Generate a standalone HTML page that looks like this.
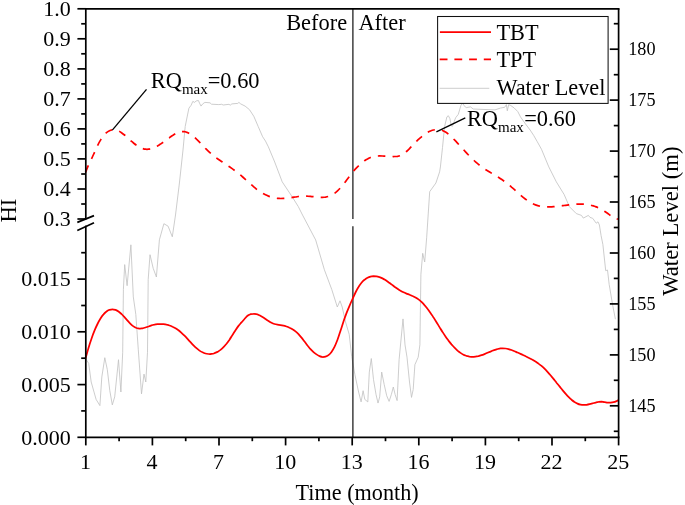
<!DOCTYPE html>
<html><head><meta charset="utf-8"><title>HI chart</title>
<style>
html,body{margin:0;padding:0;background:#fff;}
body{width:685px;height:505px;overflow:hidden;font-family:"Liberation Serif",serif;}
svg{display:block;will-change:transform;}
</style></head>
<body>
<svg width="685" height="505" viewBox="0 0 685 505">
<rect x="0" y="0" width="685" height="505" fill="#ffffff"/>
<path d="M85.5,358.5L88.7,363.4L91.2,382.0L96.1,399.4L99.9,405.6L101.8,377.1L104.8,357.7L107.3,369.6L109.8,390.7L112.3,404.9L114.7,396.9L118.5,359.7L120.9,392.0L122.7,352.3L123.4,289.4L124.7,264.6L127.1,285.7L130.9,244.8L133.3,296.9L135.8,314.3L138.3,349.8L141.5,393.9L144.0,374.1L145.8,382.0L147.5,352.3L148.2,279.5L150.0,254.7L153.2,268.3L156.4,277.0L159.4,239.8L163.9,223.7L168.1,226.2L172.3,236.8L175.5,215.0L179.3,184.0L183.0,150.0L185.2,126.5L188.9,108.2L191.1,105.3L192.8,101.4L194.7,102.4L196.2,100.9L198.4,100.5L199.5,103.1L201.0,106.1L202.7,103.9L204.9,102.4L210.0,102.8L211.5,104.2L218.8,104.6L221.7,104.3L223.2,105.0L229.0,104.3L230.2,105.2L231.9,103.9L237.8,103.4L238.9,102.4L240.7,103.9L245.1,106.1L249.5,109.7L253.8,116.3L258.2,126.5L262.6,136.7L265.5,141.1L268.4,146.9L274.7,162.0L282.2,181.8L292.1,196.7L298.3,206.6L302.0,214.0L315.7,240.0L324.4,269.8L331.8,289.6L337.3,307.0L340.0,300.8L342.2,307.0L345.5,321.9L349.2,334.3L351.7,356.6L354.9,374.6L358.6,392.0L361.1,401.9L363.1,390.7L364.8,399.4L367.8,401.9L369.3,372.1L371.3,358.5L373.5,379.6L376.0,394.4L378.0,403.1L379.7,396.9L381.7,372.1L384.2,384.5L386.7,395.7L389.1,401.4L391.4,394.4L393.3,387.0L395.1,394.4L397.1,400.6L399.1,359.7L403.0,318.9L405.0,344.8L407.0,357.2L409.5,382.0L411.5,397.4L413.2,389.5L414.9,364.7L418.2,357.2L419.9,344.8L420.9,274.4L422.7,253.3L424.7,262.0L426.7,237.2L429.7,191.7L435.9,183.0L439.6,171.9L440.4,167.0L442.5,147.5L444.6,126.5L446.9,116.9L448.3,115.7L449.9,118.6L451.3,125.6L452.3,126.5L455.6,117.8L458.3,114.3L460.9,105.5L462.7,102.9L463.9,105.5L466.2,107.6L470.5,106.9L473.2,109.0L480.0,109.3L495.0,109.9L500.3,108.1L504.7,107.3L506.4,104.6L507.3,110.8L508.7,104.6L510.8,105.5L514.3,108.1L517.8,111.6L520.5,116.9L524.8,123.0L530.1,130.0L533.6,135.3L537.1,141.4L541.5,149.3L548.8,166.9L556.3,181.8L564.2,194.6L569.4,206.7L576.3,213.6L581.5,215.4L583.3,218.1L588.4,215.4L590.0,217.4L592.7,218.3L596.2,223.2L598.0,221.8L599.4,225.0L601.1,235.7L602.9,244.6L605.7,270.7L607.5,270.0L609.2,284.6L612.7,305.3L615.4,319.2" fill="none" stroke="#c0c0c0" stroke-width="0.8" stroke-linejoin="round"/>
<line x1="352.9" y1="8.8" x2="352.9" y2="218.9" stroke="#111" stroke-width="1.2"/>
<line x1="352.9" y1="226.3" x2="352.9" y2="437.3" stroke="#111" stroke-width="1.2"/>
<path d="M85.5,172.4C86.0,171.2 87.5,167.4 88.5,165.1C89.5,162.9 90.5,161.1 91.5,158.9C92.5,156.8 93.5,154.5 94.5,152.3C95.5,150.1 96.5,147.7 97.5,145.7C98.5,143.6 99.5,141.7 100.5,140.1C101.5,138.4 102.5,137.0 103.5,135.8C104.5,134.5 105.5,133.5 106.5,132.7C107.5,131.9 108.5,131.3 109.5,130.8C110.5,130.3 111.5,130.1 112.5,129.9C113.5,129.8 114.5,129.8 115.5,130.0C116.5,130.2 117.5,130.5 118.5,131.0C119.5,131.4 120.5,132.0 121.5,132.7C122.5,133.4 123.5,134.2 124.5,135.0C125.5,135.8 126.5,136.8 127.5,137.7C128.5,138.6 129.5,139.5 130.5,140.4C131.5,141.3 132.5,142.1 133.5,143.0C134.5,143.8 135.5,144.6 136.5,145.2C137.5,145.9 138.5,146.6 139.5,147.1C140.5,147.7 141.5,148.1 142.5,148.5C143.5,148.8 144.5,149.1 145.5,149.2C146.5,149.3 147.5,149.3 148.5,149.2C149.5,149.1 150.5,148.9 151.5,148.6C152.5,148.3 153.5,147.9 154.5,147.5C155.5,147.0 156.5,146.5 157.5,145.9C158.5,145.4 159.5,144.7 160.5,144.1C161.5,143.4 162.5,142.7 163.5,142.0C164.5,141.3 165.5,140.6 166.5,139.9C167.5,139.1 168.5,138.4 169.5,137.7C170.5,136.9 171.5,136.2 172.5,135.6C173.5,134.9 174.5,134.3 175.5,133.7C176.5,133.2 177.5,132.7 178.5,132.4C179.5,132.0 180.5,131.7 181.5,131.6C182.5,131.5 183.5,131.5 184.5,131.7C185.5,131.9 186.5,132.2 187.5,132.6C188.5,133.1 189.5,133.6 190.5,134.3C191.5,134.9 192.5,135.7 193.5,136.5C194.5,137.3 195.5,138.2 196.5,139.2C197.5,140.1 198.5,141.1 199.5,142.1C200.5,143.1 201.5,144.2 202.5,145.2C203.5,146.3 204.5,147.3 205.5,148.4C206.5,149.4 207.5,150.4 208.5,151.3C209.5,152.3 210.5,153.2 211.5,154.0C212.5,154.9 213.5,155.7 214.5,156.5C215.5,157.3 216.5,158.0 217.5,158.7C218.5,159.4 219.5,160.1 220.5,160.8C221.5,161.5 222.5,162.1 223.5,162.8C224.5,163.5 225.5,164.1 226.5,164.8C227.5,165.5 228.5,166.2 229.5,166.8C230.5,167.5 231.5,168.2 232.5,168.9C233.5,169.6 234.5,170.4 235.5,171.1C236.5,171.9 237.5,172.6 238.5,173.4C239.5,174.2 240.5,175.1 241.5,175.9C242.5,176.8 243.5,177.7 244.5,178.6C245.5,179.5 246.5,180.4 247.5,181.3C248.5,182.2 249.5,183.1 250.5,184.0C251.5,184.9 252.5,185.8 253.5,186.6C254.5,187.5 255.5,188.3 256.5,189.1C257.5,189.8 258.5,190.6 259.5,191.3C260.5,192.0 261.5,192.6 262.5,193.2C263.5,193.8 264.5,194.3 265.5,194.8C266.5,195.3 267.5,195.7 268.5,196.1C269.5,196.5 270.5,196.8 271.5,197.1C272.5,197.4 273.5,197.6 274.5,197.8C275.5,198.0 276.5,198.2 277.5,198.3C278.5,198.4 279.5,198.4 280.5,198.5C281.5,198.5 282.5,198.5 283.5,198.4C284.5,198.4 285.5,198.3 286.5,198.2C287.5,198.1 288.5,198.0 289.5,197.8C290.5,197.7 291.5,197.6 292.5,197.4C293.5,197.3 294.5,197.1 295.5,197.0C296.5,196.8 297.5,196.7 298.5,196.5C299.5,196.4 300.5,196.3 301.5,196.2C302.5,196.1 303.5,196.1 304.5,196.1C305.5,196.0 306.5,196.0 307.5,196.1C308.5,196.1 309.5,196.2 310.5,196.3C311.5,196.5 312.5,196.6 313.5,196.7C314.5,196.8 315.5,197.0 316.5,197.1C317.5,197.2 318.5,197.3 319.5,197.4C320.5,197.4 321.5,197.4 322.5,197.4C323.5,197.3 324.5,197.2 325.5,197.1C326.5,196.9 327.5,196.7 328.5,196.4C329.5,196.1 330.5,195.7 331.5,195.2C332.5,194.7 333.5,194.1 334.5,193.4C335.5,192.7 336.5,191.8 337.5,190.9C338.5,190.0 339.5,188.9 340.5,187.8C341.5,186.6 342.5,185.4 343.5,184.2C344.5,182.9 345.5,181.6 346.5,180.2C347.5,178.9 348.5,177.6 349.5,176.3C350.5,175.0 351.5,173.7 352.5,172.4C353.5,171.2 354.5,170.0 355.5,168.9C356.5,167.8 357.5,166.7 358.5,165.8C359.5,164.8 360.5,163.9 361.5,163.0C362.5,162.2 363.5,161.4 364.5,160.7C365.5,160.0 366.5,159.4 367.5,158.9C368.5,158.3 369.5,157.9 370.5,157.5C371.5,157.1 372.5,156.8 373.5,156.6C374.5,156.4 375.5,156.2 376.5,156.1C377.5,156.0 378.5,156.0 379.5,155.9C380.5,155.9 381.5,155.9 382.5,156.0C383.5,156.0 384.5,156.1 385.5,156.1C386.5,156.2 387.5,156.3 388.5,156.3C389.5,156.4 390.5,156.5 391.5,156.5C392.5,156.5 393.5,156.6 394.5,156.5C395.5,156.5 396.5,156.4 397.5,156.3C398.5,156.1 399.5,155.9 400.5,155.5C401.5,155.1 402.5,154.6 403.5,153.9C404.5,153.2 405.5,152.4 406.5,151.5C407.5,150.6 408.5,149.6 409.5,148.6C410.5,147.5 411.5,146.4 412.5,145.4C413.5,144.4 414.5,143.3 415.5,142.3C416.5,141.3 417.5,140.4 418.5,139.4C419.5,138.5 420.5,137.6 421.5,136.8C422.5,136.0 423.5,135.2 424.5,134.5C425.5,133.7 426.5,133.1 427.5,132.5C428.5,131.9 429.5,131.4 430.5,131.0C431.5,130.6 432.5,130.2 433.5,130.0C434.5,129.8 435.5,129.6 436.5,129.5C437.5,129.5 438.5,129.5 439.5,129.7C440.5,129.9 441.5,130.1 442.5,130.5C443.5,130.9 444.5,131.4 445.5,132.0C446.5,132.6 447.5,133.4 448.5,134.2C449.5,135.0 450.5,135.9 451.5,136.9C452.5,137.8 453.5,138.9 454.5,139.9C455.5,140.9 456.5,142.0 457.5,143.1C458.5,144.2 459.5,145.3 460.5,146.3C461.5,147.4 462.5,148.5 463.5,149.6C464.5,150.7 465.5,151.8 466.5,152.9C467.5,154.0 468.5,155.0 469.5,156.1C470.5,157.1 471.5,158.1 472.5,159.1C473.5,160.0 474.5,161.0 475.5,161.9C476.5,162.8 477.5,163.6 478.5,164.4C479.5,165.2 480.5,166.0 481.5,166.7C482.5,167.5 483.5,168.1 484.5,168.8C485.5,169.5 486.5,170.1 487.5,170.7C488.5,171.4 489.5,172.0 490.5,172.6C491.5,173.2 492.5,173.8 493.5,174.4C494.5,175.0 495.5,175.6 496.5,176.2C497.5,176.8 498.5,177.4 499.5,178.0C500.5,178.7 501.5,179.3 502.5,180.0C503.5,180.7 504.5,181.4 505.5,182.1C506.5,182.9 507.5,183.7 508.5,184.5C509.5,185.3 510.5,186.2 511.5,187.1C512.5,187.9 513.5,188.8 514.5,189.7C515.5,190.6 516.5,191.5 517.5,192.4C518.5,193.3 519.5,194.2 520.5,195.1C521.5,195.9 522.5,196.8 523.5,197.6C524.5,198.4 525.5,199.2 526.5,199.9C527.5,200.7 528.5,201.3 529.5,202.0C530.5,202.6 531.5,203.1 532.5,203.6C533.5,204.1 534.5,204.5 535.5,204.9C536.5,205.3 537.5,205.6 538.5,205.8C539.5,206.1 540.5,206.3 541.5,206.5C542.5,206.6 543.5,206.7 544.5,206.8C545.5,206.9 546.5,206.9 547.5,206.9C548.5,206.9 549.5,206.9 550.5,206.9C551.5,206.9 552.5,206.8 553.5,206.7C554.5,206.6 555.5,206.5 556.5,206.4C557.5,206.3 558.5,206.2 559.5,206.1C560.5,206.0 561.5,205.8 562.5,205.7C563.5,205.6 564.5,205.4 565.5,205.3C566.5,205.2 567.5,205.1 568.5,204.9C569.5,204.8 570.5,204.7 571.5,204.6C572.5,204.5 573.5,204.4 574.5,204.3C575.5,204.2 576.5,204.2 577.5,204.1C578.5,204.1 579.5,204.1 580.5,204.1C581.5,204.1 582.5,204.1 583.5,204.2C584.5,204.2 585.5,204.3 586.5,204.4C587.5,204.6 588.5,204.7 589.5,204.9C590.5,205.1 591.5,205.4 592.5,205.7C593.5,205.9 594.5,206.3 595.5,206.6C596.5,207.0 597.5,207.4 598.5,207.9C599.5,208.4 600.5,208.9 601.5,209.4C602.5,210.0 603.5,210.6 604.5,211.2C605.5,211.9 606.5,212.6 607.5,213.3C608.5,214.0 609.5,214.8 610.5,215.5C611.5,216.3 612.5,217.2 613.5,217.8C614.5,218.4 615.8,218.9 616.5,219.1C617.2,219.2 617.8,218.9 618.0,218.8" fill="none" stroke="#ff0000" stroke-width="1.7" stroke-dasharray="7.5 7.2"/>
<path d="M85.5,358.5C86.0,356.7 87.5,351.2 88.5,347.9C89.5,344.6 90.5,341.5 91.5,338.7C92.5,335.8 93.5,333.1 94.5,330.7C95.5,328.2 96.5,326.0 97.5,324.0C98.5,321.9 99.5,320.1 100.5,318.5C101.5,316.9 102.5,315.5 103.5,314.4C104.5,313.2 105.5,312.2 106.5,311.5C107.5,310.7 108.5,310.2 109.5,309.8C110.5,309.5 111.5,309.3 112.5,309.3C113.5,309.3 114.5,309.6 115.5,309.9C116.5,310.3 117.5,310.8 118.5,311.5C119.5,312.2 120.5,313.1 121.5,314.0C122.5,315.0 123.5,316.1 124.5,317.2C125.5,318.3 126.5,319.5 127.5,320.6C128.5,321.7 129.5,322.9 130.5,323.8C131.5,324.8 132.5,325.7 133.5,326.4C134.5,327.1 135.5,327.6 136.5,328.0C137.5,328.3 138.5,328.5 139.5,328.5C140.5,328.6 141.5,328.4 142.5,328.3C143.5,328.1 144.5,327.8 145.5,327.5C146.5,327.2 147.5,326.8 148.5,326.5C149.5,326.1 150.5,325.7 151.5,325.4C152.5,325.1 153.5,324.9 154.5,324.7C155.5,324.4 156.5,324.3 157.5,324.2C158.5,324.1 159.5,324.0 160.5,324.0C161.5,324.0 162.5,324.1 163.5,324.2C164.5,324.3 165.5,324.4 166.5,324.7C167.5,324.9 168.5,325.2 169.5,325.5C170.5,325.8 171.5,326.2 172.5,326.7C173.5,327.1 174.5,327.6 175.5,328.2C176.5,328.8 177.5,329.5 178.5,330.2C179.5,331.0 180.5,331.9 181.5,332.8C182.5,333.7 183.5,334.7 184.5,335.7C185.5,336.7 186.5,337.8 187.5,338.9C188.5,340.0 189.5,341.1 190.5,342.1C191.5,343.2 192.5,344.3 193.5,345.3C194.5,346.3 195.5,347.3 196.5,348.2C197.5,349.1 198.5,349.9 199.5,350.6C200.5,351.3 201.5,351.9 202.5,352.3C203.5,352.8 204.5,353.2 205.5,353.5C206.5,353.8 207.5,353.9 208.5,354.0C209.5,354.1 210.5,354.1 211.5,353.9C212.5,353.8 213.5,353.6 214.5,353.2C215.5,352.9 216.5,352.4 217.5,351.9C218.5,351.3 219.5,350.6 220.5,349.9C221.5,349.1 222.5,348.2 223.5,347.2C224.5,346.2 225.5,345.0 226.5,343.8C227.5,342.5 228.5,341.1 229.5,339.7C230.5,338.2 231.5,336.5 232.5,334.9C233.5,333.4 234.5,331.7 235.5,330.2C236.5,328.7 237.5,327.2 238.5,325.9C239.5,324.6 240.5,323.6 241.5,322.4C242.5,321.3 243.5,320.1 244.5,319.0C245.5,317.9 246.5,316.6 247.5,315.8C248.5,315.0 249.5,314.6 250.5,314.2C251.5,313.9 252.5,313.8 253.5,313.8C254.5,313.7 255.5,313.9 256.5,314.2C257.5,314.4 258.5,314.9 259.5,315.3C260.5,315.8 261.5,316.4 262.5,317.0C263.5,317.6 264.5,318.3 265.5,319.0C266.5,319.7 267.5,320.4 268.5,321.0C269.5,321.7 270.5,322.3 271.5,322.8C272.5,323.3 273.5,323.7 274.5,324.0C275.5,324.3 276.5,324.5 277.5,324.7C278.5,324.9 279.5,325.0 280.5,325.1C281.5,325.3 282.5,325.5 283.5,325.7C284.5,325.9 285.5,326.2 286.5,326.5C287.5,326.8 288.5,327.2 289.5,327.7C290.5,328.1 291.5,328.6 292.5,329.3C293.5,329.9 294.5,330.6 295.5,331.4C296.5,332.2 297.5,333.1 298.5,334.1C299.5,335.2 300.5,336.4 301.5,337.6C302.5,338.8 303.5,340.2 304.5,341.5C305.5,342.8 306.5,344.2 307.5,345.5C308.5,346.7 309.5,348.0 310.5,349.1C311.5,350.2 312.5,351.2 313.5,352.1C314.5,353.0 315.5,353.7 316.5,354.4C317.5,355.1 318.5,355.7 319.5,356.1C320.5,356.5 321.5,356.9 322.5,357.0C323.5,357.0 324.5,357.0 325.5,356.7C326.5,356.4 327.5,355.9 328.5,355.1C329.5,354.3 330.5,353.3 331.5,351.9C332.5,350.5 333.5,348.9 334.5,346.9C335.5,344.9 336.5,342.4 337.5,339.8C338.5,337.1 339.5,333.9 340.5,330.8C341.5,327.8 342.5,324.5 343.5,321.5C344.5,318.5 345.5,315.7 346.5,313.1C347.5,310.5 348.5,308.1 349.5,305.8C350.5,303.4 351.5,301.2 352.5,299.0C353.5,296.8 354.5,294.5 355.5,292.5C356.5,290.5 357.5,288.6 358.5,287.0C359.5,285.3 360.5,283.9 361.5,282.7C362.5,281.5 363.5,280.6 364.5,279.8C365.5,278.9 366.5,278.3 367.5,277.8C368.5,277.3 369.5,276.9 370.5,276.6C371.5,276.3 372.5,276.2 373.5,276.1C374.5,276.1 375.5,276.2 376.5,276.3C377.5,276.5 378.5,276.8 379.5,277.1C380.5,277.4 381.5,277.9 382.5,278.4C383.5,278.9 384.5,279.5 385.5,280.1C386.5,280.8 387.5,281.5 388.5,282.2C389.5,282.9 390.5,283.7 391.5,284.4C392.5,285.2 393.5,285.9 394.5,286.7C395.5,287.4 396.5,288.1 397.5,288.8C398.5,289.5 399.5,290.2 400.5,290.7C401.5,291.3 402.5,291.8 403.5,292.3C404.5,292.8 405.5,293.2 406.5,293.6C407.5,294.0 408.5,294.3 409.5,294.7C410.5,295.1 411.5,295.5 412.5,296.0C413.5,296.4 414.5,296.9 415.5,297.5C416.5,298.1 417.5,298.7 418.5,299.4C419.5,300.1 420.5,301.0 421.5,301.9C422.5,302.9 423.5,303.9 424.5,305.1C425.5,306.2 426.5,307.4 427.5,308.8C428.5,310.1 429.5,311.5 430.5,312.9C431.5,314.3 432.5,315.9 433.5,317.4C434.5,319.0 435.5,320.6 436.5,322.2C437.5,323.8 438.5,325.5 439.5,327.1C440.5,328.7 441.5,330.4 442.5,331.9C443.5,333.5 444.5,335.0 445.5,336.4C446.5,337.9 447.5,339.2 448.5,340.6C449.5,341.9 450.5,343.2 451.5,344.4C452.5,345.5 453.5,346.7 454.5,347.7C455.5,348.7 456.5,349.7 457.5,350.6C458.5,351.4 459.5,352.2 460.5,352.9C461.5,353.6 462.5,354.2 463.5,354.7C464.5,355.2 465.5,355.5 466.5,355.9C467.5,356.2 468.5,356.4 469.5,356.6C470.5,356.7 471.5,356.8 472.5,356.8C473.5,356.8 474.5,356.7 475.5,356.6C476.5,356.5 477.5,356.3 478.5,356.1C479.5,355.8 480.5,355.5 481.5,355.2C482.5,354.9 483.5,354.5 484.5,354.1C485.5,353.7 486.5,353.3 487.5,352.8C488.5,352.4 489.5,352.0 490.5,351.6C491.5,351.1 492.5,350.7 493.5,350.3C494.5,350.0 495.5,349.6 496.5,349.3C497.5,349.0 498.5,348.8 499.5,348.6C500.5,348.5 501.5,348.3 502.5,348.3C503.5,348.3 504.5,348.4 505.5,348.5C506.5,348.6 507.5,348.8 508.5,349.1C509.5,349.4 510.5,349.7 511.5,350.0C512.5,350.4 513.5,350.8 514.5,351.2C515.5,351.6 516.5,352.1 517.5,352.5C518.5,353.0 519.5,353.5 520.5,353.9C521.5,354.4 522.5,354.9 523.5,355.3C524.5,355.8 525.5,356.3 526.5,356.7C527.5,357.2 528.5,357.7 529.5,358.2C530.5,358.7 531.5,359.2 532.5,359.7C533.5,360.3 534.5,360.9 535.5,361.5C536.5,362.2 537.5,362.8 538.5,363.6C539.5,364.3 540.5,365.1 541.5,365.9C542.5,366.8 543.5,367.7 544.5,368.7C545.5,369.7 546.5,370.8 547.5,371.9C548.5,373.0 549.5,374.1 550.5,375.3C551.5,376.5 552.5,377.7 553.5,378.9C554.5,380.2 555.5,381.4 556.5,382.7C557.5,383.9 558.5,385.2 559.5,386.4C560.5,387.6 561.5,388.9 562.5,390.1C563.5,391.3 564.5,392.5 565.5,393.6C566.5,394.7 567.5,395.8 568.5,396.8C569.5,397.8 570.5,398.8 571.5,399.7C572.5,400.5 573.5,401.3 574.5,402.0C575.5,402.6 576.5,403.2 577.5,403.6C578.5,404.1 579.5,404.4 580.5,404.6C581.5,404.8 582.5,404.9 583.5,404.9C584.5,405.0 585.5,404.9 586.5,404.8C587.5,404.7 588.5,404.5 589.5,404.2C590.5,404.0 591.5,403.7 592.5,403.4C593.5,403.2 594.5,402.8 595.5,402.6C596.5,402.3 597.5,402.0 598.5,401.9C599.5,401.7 600.5,401.7 601.5,401.7C602.5,401.8 603.5,402.0 604.5,402.1C605.5,402.2 606.5,402.5 607.5,402.6C608.5,402.7 609.5,402.7 610.5,402.7C611.5,402.6 612.5,402.5 613.5,402.2C614.5,402.0 615.7,401.5 616.5,401.1C617.3,400.8 618.2,400.2 618.5,400.0" fill="none" stroke="#ff0000" stroke-width="1.75"/>
<g stroke="#000" stroke-width="1.7" fill="none" stroke-linecap="butt">
<line x1="85.0" y1="8.8" x2="619.5" y2="8.8"/>
<line x1="85.0" y1="437.3" x2="619.5" y2="437.3"/>
<line x1="618.6" y1="8.8" x2="618.6" y2="437.3"/>
<line x1="85.8" y1="8.8" x2="85.8" y2="219.4"/>
<line x1="85.8" y1="225.6" x2="85.8" y2="437.3"/>
<line x1="77.3" y1="222.4" x2="94" y2="215.6"/>
<line x1="77.3" y1="230.4" x2="94" y2="222.8"/>
<line x1="77.4" y1="8.8" x2="85.8" y2="8.8"/>
<line x1="81.2" y1="23.8" x2="85.8" y2="23.8"/>
<line x1="77.4" y1="38.8" x2="85.8" y2="38.8"/>
<line x1="81.2" y1="53.8" x2="85.8" y2="53.8"/>
<line x1="77.4" y1="68.9" x2="85.8" y2="68.9"/>
<line x1="81.2" y1="83.9" x2="85.8" y2="83.9"/>
<line x1="77.4" y1="98.9" x2="85.8" y2="98.9"/>
<line x1="81.2" y1="113.9" x2="85.8" y2="113.9"/>
<line x1="77.4" y1="128.9" x2="85.8" y2="128.9"/>
<line x1="81.2" y1="143.9" x2="85.8" y2="143.9"/>
<line x1="77.4" y1="158.9" x2="85.8" y2="158.9"/>
<line x1="81.2" y1="174.0" x2="85.8" y2="174.0"/>
<line x1="77.4" y1="189.0" x2="85.8" y2="189.0"/>
<line x1="81.2" y1="204.0" x2="85.8" y2="204.0"/>
<line x1="77.4" y1="219.0" x2="85.8" y2="219.0"/>
<line x1="77.4" y1="437.3" x2="85.8" y2="437.3"/>
<line x1="81.2" y1="410.9" x2="85.8" y2="410.9"/>
<line x1="77.4" y1="384.6" x2="85.8" y2="384.6"/>
<line x1="81.2" y1="358.2" x2="85.8" y2="358.2"/>
<line x1="77.4" y1="331.8" x2="85.8" y2="331.8"/>
<line x1="81.2" y1="305.5" x2="85.8" y2="305.5"/>
<line x1="77.4" y1="279.1" x2="85.8" y2="279.1"/>
<line x1="81.2" y1="252.7" x2="85.8" y2="252.7"/>
<line x1="85.8" y1="437.3" x2="85.8" y2="445.4"/>
<line x1="119.1" y1="437.3" x2="119.1" y2="441.2"/>
<line x1="152.4" y1="437.3" x2="152.4" y2="445.4"/>
<line x1="185.7" y1="437.3" x2="185.7" y2="441.2"/>
<line x1="219.0" y1="437.3" x2="219.0" y2="445.4"/>
<line x1="252.3" y1="437.3" x2="252.3" y2="441.2"/>
<line x1="285.6" y1="437.3" x2="285.6" y2="445.4"/>
<line x1="318.9" y1="437.3" x2="318.9" y2="441.2"/>
<line x1="352.2" y1="437.3" x2="352.2" y2="445.4"/>
<line x1="385.5" y1="437.3" x2="385.5" y2="441.2"/>
<line x1="418.8" y1="437.3" x2="418.8" y2="445.4"/>
<line x1="452.1" y1="437.3" x2="452.1" y2="441.2"/>
<line x1="485.4" y1="437.3" x2="485.4" y2="445.4"/>
<line x1="518.7" y1="437.3" x2="518.7" y2="441.2"/>
<line x1="552.0" y1="437.3" x2="552.0" y2="445.4"/>
<line x1="585.3" y1="437.3" x2="585.3" y2="441.2"/>
<line x1="618.6" y1="437.3" x2="618.6" y2="445.4"/>
<line x1="613.8" y1="23.7" x2="618.6" y2="23.7"/>
<line x1="609.8" y1="49.2" x2="618.6" y2="49.2"/>
<line x1="613.8" y1="74.7" x2="618.6" y2="74.7"/>
<line x1="609.8" y1="100.1" x2="618.6" y2="100.1"/>
<line x1="613.8" y1="125.6" x2="618.6" y2="125.6"/>
<line x1="609.8" y1="151.1" x2="618.6" y2="151.1"/>
<line x1="613.8" y1="176.6" x2="618.6" y2="176.6"/>
<line x1="609.8" y1="202.0" x2="618.6" y2="202.0"/>
<line x1="613.8" y1="227.5" x2="618.6" y2="227.5"/>
<line x1="609.8" y1="253.0" x2="618.6" y2="253.0"/>
<line x1="613.8" y1="278.4" x2="618.6" y2="278.4"/>
<line x1="609.8" y1="303.9" x2="618.6" y2="303.9"/>
<line x1="613.8" y1="329.4" x2="618.6" y2="329.4"/>
<line x1="609.8" y1="354.9" x2="618.6" y2="354.9"/>
<line x1="613.8" y1="380.3" x2="618.6" y2="380.3"/>
<line x1="609.8" y1="405.8" x2="618.6" y2="405.8"/>
<line x1="613.8" y1="431.3" x2="618.6" y2="431.3"/>
</g>
<line x1="146.5" y1="89.3" x2="112.3" y2="130.2" stroke="#000" stroke-width="1.3"/>
<line x1="436.4" y1="131.8" x2="465.3" y2="117.8" stroke="#000" stroke-width="1.3"/>
<rect x="437.6" y="16.5" width="170.5" height="86.9" fill="#fff" stroke="#111" stroke-width="1.05"/>
<line x1="439.9" y1="32" x2="491" y2="32" stroke="#ff0000" stroke-width="1.75"/>
<line x1="439.7" y1="59.4" x2="491" y2="59.4" stroke="#ff0000" stroke-width="1.7" stroke-dasharray="7.8 6.9"/>
<line x1="439.6" y1="88.3" x2="489.3" y2="88.3" stroke="#c0c0c0" stroke-width="0.8"/>
<g font-family="'Liberation Serif', serif" fill="#000">
<text x="70.7" y="16.1" font-size="22" text-anchor="end">1.0</text>
<text x="70.7" y="46.1" font-size="22" text-anchor="end">0.9</text>
<text x="70.7" y="76.2" font-size="22" text-anchor="end">0.8</text>
<text x="70.7" y="106.2" font-size="22" text-anchor="end">0.7</text>
<text x="70.7" y="136.2" font-size="22" text-anchor="end">0.6</text>
<text x="70.7" y="166.2" font-size="22" text-anchor="end">0.5</text>
<text x="70.7" y="196.3" font-size="22" text-anchor="end">0.4</text>
<text x="70.7" y="226.3" font-size="22" text-anchor="end">0.3</text>
<text x="70.7" y="444.6" font-size="22" text-anchor="end">0.000</text>
<text x="70.7" y="391.9" font-size="22" text-anchor="end">0.005</text>
<text x="70.7" y="339.1" font-size="22" text-anchor="end">0.010</text>
<text x="70.7" y="286.4" font-size="22" text-anchor="end">0.015</text>
<text x="85.4" y="468.5" font-size="22" text-anchor="middle">1</text>
<text x="152.0" y="468.5" font-size="22" text-anchor="middle">4</text>
<text x="218.6" y="468.5" font-size="22" text-anchor="middle">7</text>
<text x="285.2" y="468.5" font-size="22" text-anchor="middle">10</text>
<text x="351.8" y="468.5" font-size="22" text-anchor="middle">13</text>
<text x="418.4" y="468.5" font-size="22" text-anchor="middle">16</text>
<text x="485.0" y="468.5" font-size="22" text-anchor="middle">19</text>
<text x="551.6" y="468.5" font-size="22" text-anchor="middle">22</text>
<text x="618.2" y="468.5" font-size="22" text-anchor="middle">25</text>
<text x="628.2" y="55.3" font-size="18.2">180</text>
<text x="628.2" y="106.2" font-size="18.2">175</text>
<text x="628.2" y="157.2" font-size="18.2">170</text>
<text x="628.2" y="208.1" font-size="18.2">165</text>
<text x="628.2" y="259.1" font-size="18.2">160</text>
<text x="628.2" y="310.0" font-size="18.2">155</text>
<text x="628.2" y="361.0" font-size="18.2">150</text>
<text x="628.2" y="411.9" font-size="18.2">145</text>
<text x="295.6" y="499.7" font-size="22.2">Time (month)</text>
<text transform="translate(15.7,222.6) rotate(-90)" font-size="22.8">HI</text>
<text transform="translate(678,295.8) rotate(-90)" font-size="22.7">Water Level (m)</text>
<text x="286.2" y="29.6" font-size="22.4">Before</text>
<text x="358.4" y="29.6" font-size="22.4">After</text>
<text x="496.4" y="39.5" font-size="22.3">TBT</text>
<text x="496.4" y="67" font-size="22.3">TPT</text>
<text x="496.4" y="94.9" font-size="22.3">Water Level</text>
<text x="150.8" y="88.3" font-size="22.4">RQ<tspan font-size="15" dy="5.8">max</tspan><tspan dy="-5.8">=0.60</tspan></text>
<text x="466.9" y="125.7" font-size="22.4">RQ<tspan font-size="15" dy="5.8">max</tspan><tspan dy="-5.8" dx="0.3">=0.60</tspan></text>
</g>
</svg>
</body></html>
